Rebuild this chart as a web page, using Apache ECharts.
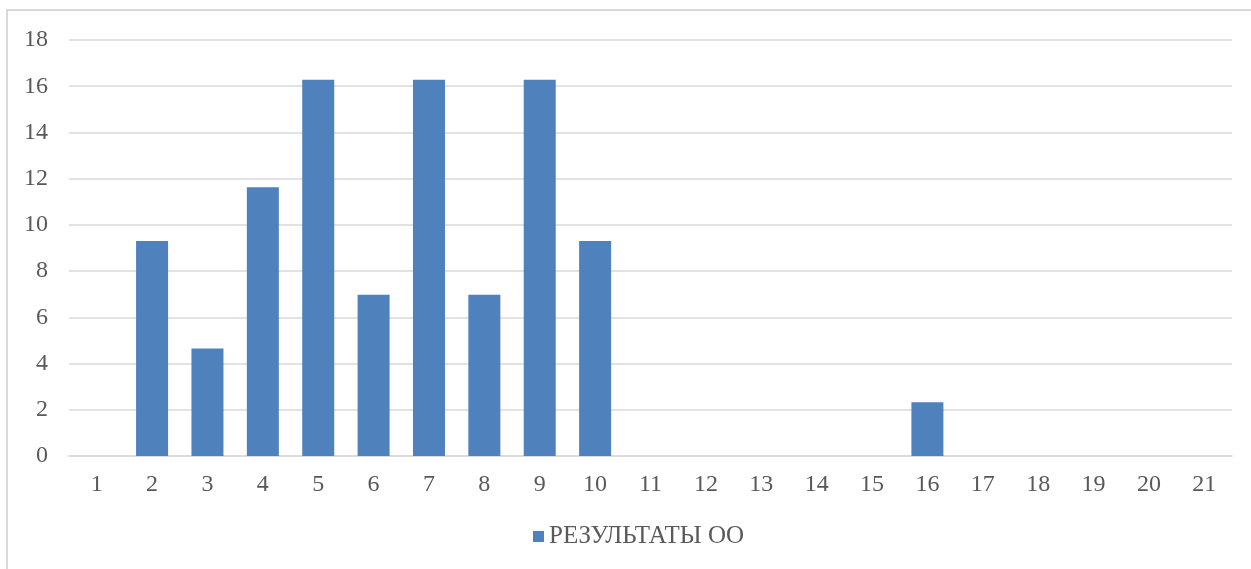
<!DOCTYPE html>
<html><head><meta charset="utf-8">
<script src="https://cdn.jsdelivr.net/npm/echarts@6/dist/echarts.min.js"></script>
<style>html,body{margin:0;padding:0;background:#fff}#c{width:1251px;height:569px}</style>
</head><body><div id="c"></div>
<script>
var categories = ['1','2','3','4','5','6','7','8','9','10','11','12','13','14','15','16','17','18','19','20','21'];
var seriesName = 'РЕЗУЛЬТАТЫ ОО';
var values = [0, 9.3, 4.65, 11.63, 16.28, 6.98, 16.28, 6.98, 16.28, 9.3, 0, 0, 0, 0, 0, 2.33, 0, 0, 0, 0, 0];

var chart = echarts.init(document.getElementById('c'));
var font = 'Liberation Serif';
chart.setOption({
  animation: false,
  textStyle: { fontFamily: font },
  graphic: [{
    type: 'rect', silent: true,
    shape: { x: 7, y: 10, width: 1260, height: 580 },
    style: { fill: 'none', stroke: '#d9d9d9', lineWidth: 2 }
  }],
  grid: { left: 69, right: 19, top: 40, bottom: 113 },
  legend: {
    data: [seriesName], top: 519, left: 528,
    icon: 'rect', itemWidth: 11, itemHeight: 11, itemGap: 6,
    textStyle: { fontFamily: font, fontSize: 25, color: '#595959' }
  },
  xAxis: {
    type: 'category', data: categories,
    axisLine: { lineStyle: { color: '#d9d9d9', width: 1.5 } },
    axisTick: { show: false },
    axisLabel: { fontFamily: font, fontSize: 24, color: '#595959', margin: 17 }
  },
  yAxis: {
    type: 'value', min: 0, max: 18, interval: 2,
    axisLine: { show: false }, axisTick: { show: false },
    splitLine: { lineStyle: { color: '#d9d9d9', width: 1.5 } },
    axisLabel: { fontFamily: font, fontSize: 24, color: '#595959', margin: 21 }
  },
  series: [{
    name: seriesName, type: 'bar', data: values,
    barWidth: 32, itemStyle: { color: '#4f81bd' }
  }]
});
</script></body></html>
